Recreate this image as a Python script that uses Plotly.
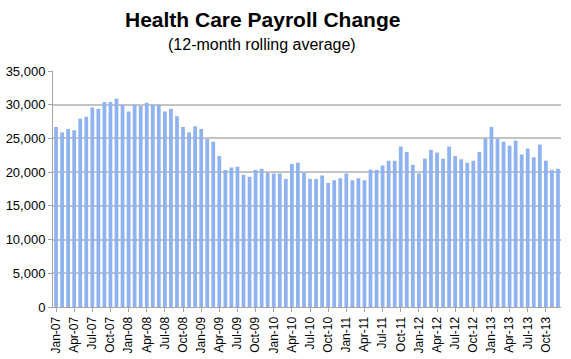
import plotly.graph_objects as go

months = ["Jan", "Feb", "Mar", "Apr", "May", "Jun", "Jul", "Aug", "Sep", "Oct", "Nov", "Dec"]
years = ["07", "08", "09", "10", "11", "12", "13"]
categories = [f"{m}-{y}" for y in years for m in months]

payroll_change = [
    26700, 25900, 26400, 26200, 27900, 28200, 29600, 29400, 30400, 30400, 30900, 30000,
    29000, 30000, 29800, 30300, 30000, 30000, 29000, 29400, 28300, 26700, 25900, 26800,
    26400, 24900, 24500, 22400, 20300, 20700, 20800, 19600, 19300, 20300, 20500, 19900,
    19800, 19800, 19000, 21200, 21400, 19900, 19000, 19000, 19500, 18400, 18800, 19100,
    19800, 18800, 19100, 18800, 20400, 20300, 21000, 21700, 21700, 23800, 23000, 21100,
    19800, 22000, 23300, 22900, 22000, 23800, 22400, 21900, 21400, 21700, 23000, 25000,
    26700, 25000, 24500, 23900, 24700, 22600, 23500, 22200, 24100, 21700, 20300, 20500,
]

tick_labels = categories[::3]
y_ticks = [0, 5000, 10000, 15000, 20000, 25000, 30000, 35000]

W, H = 571, 359
ML, MR, MT, MB = 53, 10, 71, 52

fig = go.Figure(
    go.Bar(
        x=categories,
        y=payroll_change,
        marker=dict(color="#8fb3f0", line=dict(width=0)),
    )
)

title_x = (262 - ML) / (W - ML - MR)

fig.update_layout(
    width=W,
    height=H,
    margin=dict(l=ML, r=MR, t=MT, b=MB, autoexpand=False),
    paper_bgcolor="white",
    plot_bgcolor="white",
    bargap=0.38,
    showlegend=False,
    font=dict(family="Liberation Sans, Arial, sans-serif", color="black"),
    annotations=[
        dict(text="<b>Health Care Payroll Change</b>", x=title_x, y=1, xref="paper",
             yref="paper", showarrow=False, font=dict(size=21), xanchor="center",
             yanchor="bottom", yshift=38),
        dict(text="(12-month rolling average)", x=title_x, y=1, xref="paper",
             yref="paper", showarrow=False, font=dict(size=16), xanchor="center",
             yanchor="bottom", yshift=16),
    ],
)

fig.update_xaxes(
    type="category",
    automargin=False,
    tickmode="array",
    tickvals=tick_labels,
    ticktext=tick_labels,
    tickangle=-90,
    tickfont=dict(size=12),
    showgrid=False,
    showline=True,
    linecolor="#a6a6a6",
    linewidth=1,
    ticks="outside",
    ticklen=4,
    tickcolor="#a6a6a6",
    range=[-0.5, len(categories) - 0.5],
)

fig.update_yaxes(
    automargin=False,
    range=[0, 35000],
    tickvals=y_ticks,
    tickformat=",",
    tickfont=dict(size=13),
    showgrid=True,
    gridcolor="#c4c4c4",
    gridwidth=1.5,
    showline=True,
    linecolor="#a6a6a6",
    linewidth=1,
    ticks="outside",
    ticklen=4,
    tickcolor="#a6a6a6",
    zeroline=False,
)

fig.write_html(
    "out.html",
    config={"displayModeBar": False},
    post_script="document.body.style.margin='0';document.body.style.overflow='hidden';",
)
